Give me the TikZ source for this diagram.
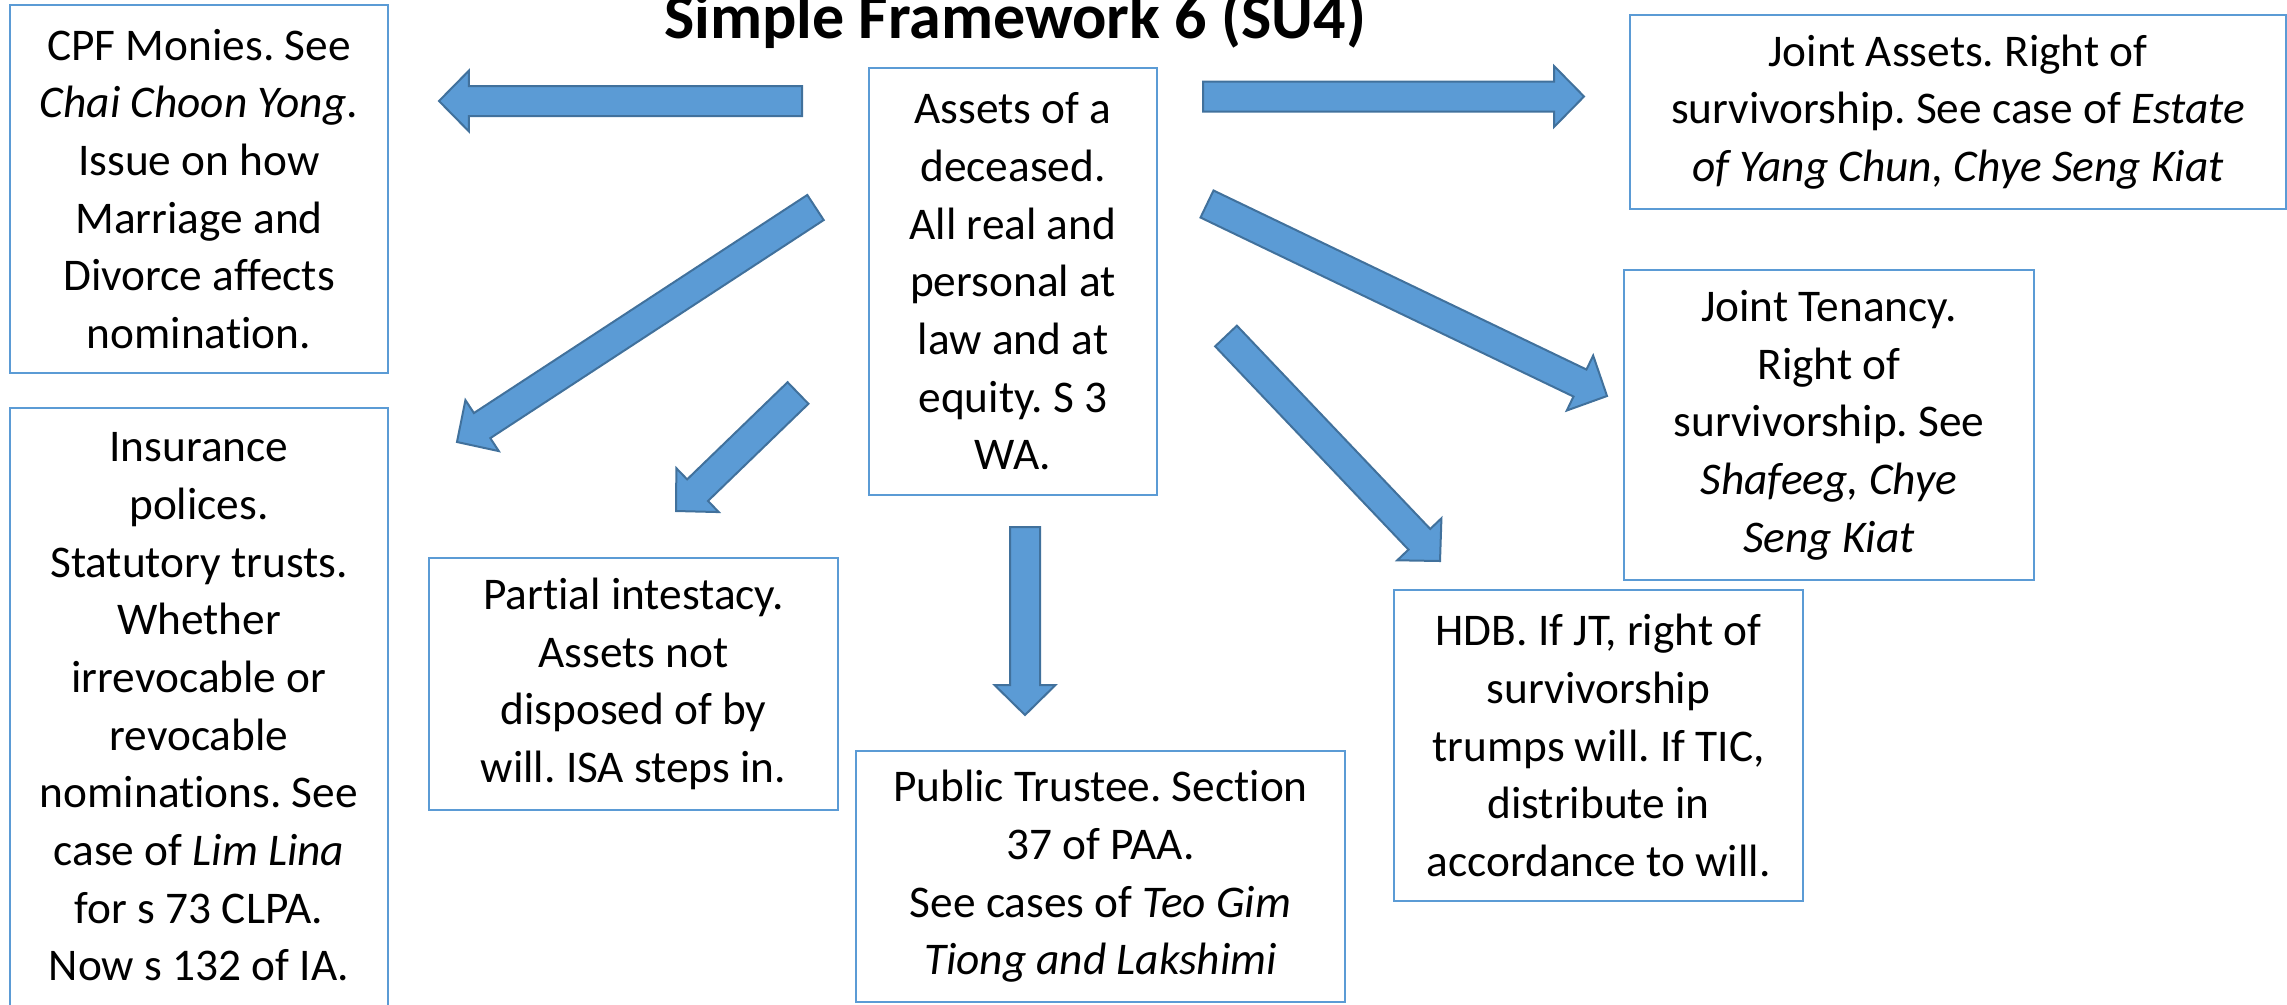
\documentclass[tikz,border=0pt]{standalone}
\usepackage{fontspec}
\setmainfont{Carlito}[Ligatures=NoCommon]
\usetikzlibrary{calc}

\definecolor{boxblue}{HTML}{5B9BD5}
\definecolor{arrowblue}{HTML}{5B9BD5}
\definecolor{arrowline}{HTML}{41719C}

\frenchspacing

\begin{document}
\begin{tikzpicture}[x=0.3pt,y=-0.3pt]
    \useasboundingbox (0,0) rectangle (2287,1004);

    \node[anchor=base,font=\fontsize{19.2pt}{23pt}\selectfont\bfseries] (title) at (1015,38) {Simple Framework 6 (SU4)};

    \begin{scope}[every node/.style={draw=boxblue,line width=0.6pt,align=center,inner sep=0pt,font=\fontsize{13.6pt}{17.3pt}\selectfont}]
        \node[minimum width=86.4pt,minimum height=128.1pt] (assets) at (1013,281.5) {Assets of a\\deceased.\\All real and\\personal at\\law and at\\equity. S 3\\WA.};
        \node[minimum width=113.4pt,minimum height=110.4pt] (cpf) at (199,189) {CPF Monies. See\\\textit{Chai Choon Yong}.\\Issue on how\\Marriage and\\Divorce affects\\nomination.};
        \node[minimum width=113.4pt,minimum height=179.4pt] (ins) at (199,707) {Insurance\\polices.\\Statutory trusts.\\Whether\\irrevocable or\\revocable\\nominations. See\\case of \textit{Lim Lina}\\for s 73 CLPA.\\Now s 132 of IA.};
        \node[minimum width=122.7pt,minimum height=75.6pt] (partial) at (633.5,684) {Partial intestacy.\\Assets not\\disposed of by\\will. ISA steps in.};
        \node[minimum width=146.7pt,minimum height=75.3pt] (public) at (1100.5,876.5) {Public Trustee. Section\\37 of PAA.\\See cases of \textit{Teo Gim}\\\textit{Tiong and Lakshimi}};
        \node[minimum width=122.7pt,minimum height=93.3pt] (hdb) at (1598.5,745.5) {HDB. If JT, right of\\survivorship\\trumps will. If TIC,\\distribute in\\accordance to will.};
        \node[minimum width=196.8pt,minimum height=58.2pt] (joint) at (1958,112) {Joint Assets. Right of\\survivorship. See case of \textit{Estate}\\\textit{of Yang Chun, Chye Seng Kiat}};
        \node[minimum width=123pt,minimum height=93pt] (jt) at (1829,425) {Joint Tenancy.\\Right of\\survivorship. See\\\textit{Shafeeg, Chye}\\\textit{Seng Kiat}};
    \end{scope}

    % tails and tips of the block arrows
    \coordinate (t1) at (802,101);    \coordinate (h1) at (439,101);
    \coordinate (t2) at (1203,96.5);  \coordinate (h2) at (1584,96.5);
    \coordinate (t3) at (815.5,207.5);\coordinate (h3) at (457,442);
    \coordinate (t4) at (798,393);    \coordinate (h4) at (676,511);
    \coordinate (t5) at (1025,527);   \coordinate (h5) at (1025,715);
    \coordinate (t6) at (1207,204);   \coordinate (h6) at (1607,396);
    \coordinate (t7) at (1226,336);   \coordinate (h7) at (1440,561);

    \begin{scope}[every edge/.style={draw=arrowline,fill=arrowblue,line width=0.6pt,
        to path={($(\tikztostart)!4.5pt!90:(\tikztotarget)$)
            -- ($(\tikztotarget)!10.06pt!-26.57:(\tikztostart)$)
            -- ($(\tikztotarget)!12.83pt!-45.47:(\tikztostart)$)
            -- (\tikztotarget)
            -- ($(\tikztotarget)!12.83pt!45.47:(\tikztostart)$)
            -- ($(\tikztotarget)!10.06pt!26.57:(\tikztostart)$)
            -- ($(\tikztostart)!4.5pt!-90:(\tikztotarget)$) -- cycle}}]
        \path (t1) edge (h1);
        \path (t2) edge (h2);
        \path (t3) edge (h3);
        \path (t4) edge (h4);
        \path (t5) edge (h5);
        \path (t6) edge (h6);
        \path (t7) edge (h7);
    \end{scope}

\end{tikzpicture}
\end{document}
